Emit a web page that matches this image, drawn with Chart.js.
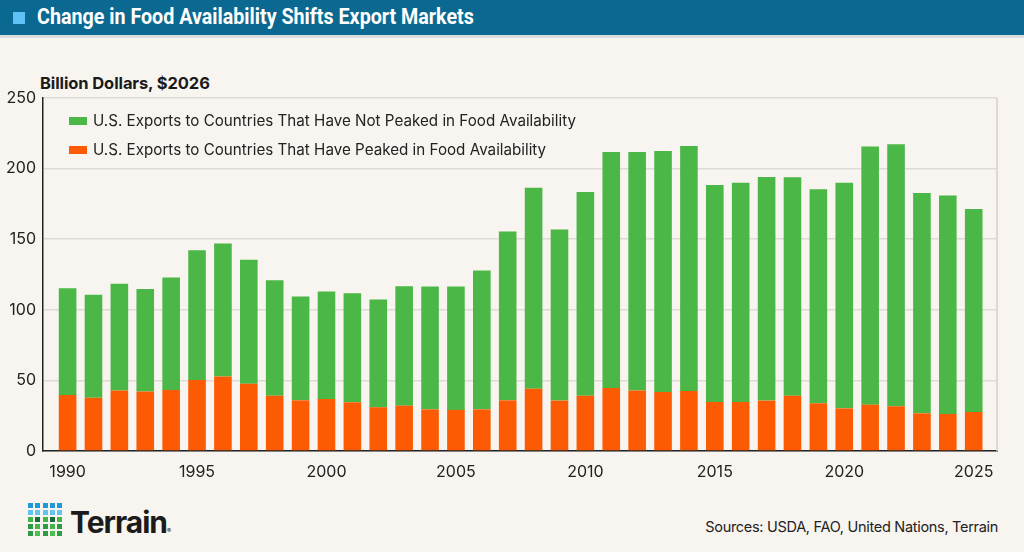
<!DOCTYPE html>
<html>
<head>
<meta charset="utf-8">
<script src="https://cdn.jsdelivr.net/npm/chart.js@4.4.1/dist/chart.umd.min.js"></script>
<style>
  html, body { margin: 0; padding: 0; }
  body { width: 1024px; height: 552px; background: #f8f4f0; position: relative; overflow: hidden; font-family: Inter, Roboto, sans-serif; }
  .header { position: absolute; left: 0; top: 0; width: 1024px; height: 35px; background: #0b6991; border-bottom: 3px solid #d9dcdc; }
  .header .sq { position: absolute; left: 13px; top: 12px; width: 12px; height: 12px; background: #5ec3f4; }
  .header .title { position: absolute; left: 37px; top: 4px; color: #fff; font: bold 22px Roboto, sans-serif; white-space: nowrap; transform: scaleX(0.895); transform-origin: left center; }
  .unit { position: absolute; left: 40px; top: 73px; font: bold 16.5px Inter, sans-serif; color: #1a1a1a; letter-spacing: -0.1px; }
  .wrap { position: absolute; left: 0; top: 40px; width: 1024px; height: 450px; }
  .logo { position: absolute; left: 28px; top: 503px; width: 36px; height: 34px; }
  .logo i { position: absolute; width: 5px; height: 5px; }
  .brand { position: absolute; left: 70px; top: 504px; font: bold 30px Inter, sans-serif; color: #1b1b1b; letter-spacing: -1px; }
  .brand sup { font-size: 6px; vertical-align: baseline; }
  .src { position: absolute; right: 26px; top: 518px; font: 14.5px Inter, sans-serif; color: #222; letter-spacing: -0.3px; }
</style>
</head>
<body>
<div class="header"><div class="sq"></div><div class="title">Change in Food Availability Shifts Export Markets</div></div>
<div class="unit">Billion Dollars, $2026</div>
<div class="wrap"><canvas id="chart"></canvas></div>
<div class="logo" id="logo"></div>
<div class="brand">Terrain<sup>®</sup></div>
<div class="src">Sources: USDA, FAO, United Nations, Terrain</div>
<script>
const years = [
  1990, 1991, 1992, 1993, 1994, 1995, 1996, 1997, 1998, 1999,
  2000, 2001, 2002, 2003, 2004, 2005, 2006, 2007, 2008, 2009,
  2010, 2011, 2012, 2013, 2014, 2015, 2016, 2017, 2018, 2019,
  2020, 2021, 2022, 2023, 2024, 2025
];

// exports to countries that have peaked in food availability (orange, bottom)
const peaked = [
  39.7, 37.8, 42.8, 42.1, 43.2, 50.3, 52.7, 47.7, 39.2, 35.9,
  36.9, 34.5, 31.0, 32.1, 29.5, 29.1, 29.5, 35.9, 44.0, 35.7,
  39.2, 44.7, 42.8, 41.8, 42.5, 34.7, 34.7, 35.7, 39.2, 33.8,
  30.2, 32.8, 31.7, 26.7, 26.2, 27.6
];

// exports to countries that have not peaked (green, top)
const notPeaked = [
  75.6, 72.8, 75.6, 72.7, 79.7, 91.9, 94.3, 87.7, 81.8, 73.5,
  76.0, 77.3, 76.3, 84.6, 87.0, 87.4, 98.3, 119.6, 142.4, 121.2,
  144.2, 167.0, 168.9, 170.6, 173.5, 153.6, 155.3, 158.3, 154.6, 151.5,
  159.8, 182.9, 185.5, 156.0, 154.8, 143.7
];

const xTicks = [1990, 1995, 2000, 2005, 2010, 2015, 2020, 2025];
const yTicks = [0, 50, 100, 150, 200, 250];

const labelPeaked = "U.S. Exports to Countries That Have Peaked in Food Availability";
const labelNotPeaked = "U.S. Exports to Countries That Have Not Peaked in Food Availability";

// logo dots
const logoColors = ["#1f9ad8", "#62c4f2", "#1b6b3a", "#2f9a46", "#4cc04c"];
const logo = document.getElementById("logo");
logoColors.forEach((c, r) => {
  for (let k = 0; k < 5; k++) {
    const d = document.createElement("i");
    d.style.left = (k * 7.3) + "px";
    d.style.top = (r * 7) + "px";
    d.style.background = (r >= 2 && (k + r) % 2 === 0) ? (r === 4 ? "#2f9a46" : "#45b54a") : c;
    logo.appendChild(d);
  }
});

const insideLegend = {
  id: "insideLegend",
  afterDraw(chart) {
    const { ctx, chartArea } = chart;
    const items = chart.data.datasets.slice().reverse();
    ctx.save();
    ctx.font = "15.2px Inter, sans-serif";
    ctx.textBaseline = "middle";
    items.forEach((ds, i) => {
      const y = chartArea.top + 23 + i * 29;
      ctx.fillStyle = ds.backgroundColor;
      ctx.fillRect(chartArea.left + 26, y - 4, 18, 8);
      ctx.fillStyle = "#222";
      ctx.fillText(ds.label, chartArea.left + 50, y);
    });
    // right frame line
    ctx.strokeStyle = "#d6d1cc";
    ctx.lineWidth = 1.5;
    ctx.beginPath();
    ctx.moveTo(chartArea.right, chartArea.top);
    ctx.lineTo(chartArea.right, chartArea.bottom);
    ctx.stroke();
    ctx.restore();
  }
};

new Chart(document.getElementById("chart"), {
  type: "bar",
  data: {
    datasets: [
      {
        label: labelPeaked,
        data: years.map((y, i) => ({ x: y, y: peaked[i] })),
        backgroundColor: "#fc5a03",
        barPercentage: 0.85,
        categoryPercentage: 0.8
      },
      {
        label: labelNotPeaked,
        data: years.map((y, i) => ({ x: y, y: notPeaked[i] })),
        backgroundColor: "#4bb747",
        barPercentage: 0.85,
        categoryPercentage: 0.8
      }
    ]
  },
  options: {
    responsive: true,
    maintainAspectRatio: false,
    animation: false,
    layout: { padding: { top: 58, right: 27, left: 0, bottom: 0 } },
    plugins: {
      legend: { display: false },
      tooltip: { enabled: false }
    },
    scales: {
      x: {
        type: "linear",
        stacked: true,
        offset: false,
        bounds: "ticks",
        min: 1989.05,
        max: 2025.9,
        afterDataLimits: s => { s.min = 1989.05; s.max = 2025.9; },
        afterBuildTicks: s => { s.ticks = xTicks.map(v => ({ value: v })); },
        afterFit: s => { s.height = 39; },
        grid: { display: false },
        border: { color: "#222", width: 1.5 },
        ticks: { color: "#222", font: { family: "Inter", size: 16 }, padding: 4, callback: v => String(v) }
      },
      y: {
        stacked: true,
        min: 0,
        max: 250,
        afterBuildTicks: s => { s.ticks = yTicks.map(v => ({ value: v })); },
        afterFit: s => { s.width = 43; },
        grid: { color: "#dedad5", lineWidth: 1.5, drawTicks: false },
        border: { color: "#222", width: 1.5 },
        ticks: { color: "#222", font: { family: "Inter", size: 16 }, padding: 7 }
      }
    }
  },
  plugins: [insideLegend]
});
</script>
</body>
</html>
